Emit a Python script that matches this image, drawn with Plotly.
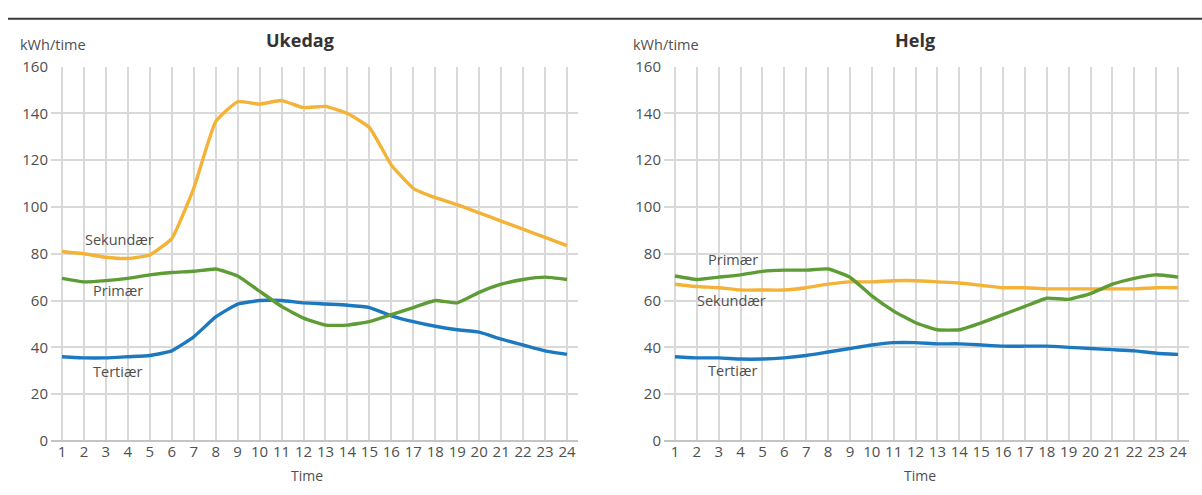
import plotly.graph_objects as go

hours = list(range(1, 25))
tick_labels = [str(h) for h in hours]

ukedag_sekundaer = [81, 80, 78.5, 78, 79.5, 86.5, 108, 136.5, 145, 144, 145.5, 142.5,
                    143, 140, 134, 118, 108, 104, 101, 97.5, 94, 90.5, 87, 83.5]
ukedag_primaer = [69.5, 68, 68.5, 69.5, 71, 72, 72.5, 73.5, 70.5, 64, 57.5, 52.5,
                  49.5, 49.5, 51, 54, 57, 60, 59, 63.5, 67, 69, 70, 69]
ukedag_tertiaer = [36, 35.5, 35.5, 36, 36.5, 38.5, 44.5, 53, 58.5, 60, 60, 59,
                   58.5, 58, 57, 53.5, 51, 49, 47.5, 46.5, 43.5, 41, 38.5, 37]

helg_primaer = [70.5, 69, 70, 71, 72.5, 73, 73, 73.5, 70, 62, 55.5, 50.5,
                47.5, 47.5, 50.5, 54, 57.5, 61, 60.5, 63, 67, 69.5, 71, 70]
helg_sekundaer = [67, 66, 65.5, 64.5, 64.5, 64.5, 65.5, 67, 68, 68, 68.5, 68.5,
                  68, 67.5, 66.5, 65.5, 65.5, 65, 65, 65, 65, 65, 65.5, 65.5]
helg_tertiaer = [36, 35.5, 35.5, 35, 35, 35.5, 36.5, 38, 39.5, 41, 42, 42,
                 41.5, 41.5, 41, 40.5, 40.5, 40.5, 40, 39.5, 39, 38.5, 37.5, 37]

y_ticks = [0, 20, 40, 60, 80, 100, 120, 140, 160]

ORANGE = "#F4B237"
GREEN = "#5E9C35"
BLUE = "#1C79BF"
GRID = "#D9D9D9"
TXT = "#4F4F4F"
FONT = "Open Sans"

W, H = 1202, 495

fig = go.Figure()

def add(x, y, color, xa, ya):
    fig.add_trace(go.Scatter(x=x, y=y, mode="lines", line=dict(color=color, width=3.4, shape="spline", smoothing=0.4),
                             xaxis=xa, yaxis=ya, showlegend=False, hoverinfo="skip"))

add(hours, ukedag_tertiaer, BLUE, "x", "y")
add(hours, ukedag_primaer, GREEN, "x", "y")
add(hours, ukedag_sekundaer, ORANGE, "x", "y")
add(hours, helg_tertiaer, BLUE, "x2", "y2")
add(hours, helg_sekundaer, ORANGE, "x2", "y2")
add(hours, helg_primaer, GREEN, "x2", "y2")

ybot = 1 - 448 / H
ytop = 1 - 58 / H

xax = dict(range=[0.5, 24.5], tickmode="array", tickvals=hours, ticktext=tick_labels,
           showgrid=True, gridcolor=GRID, gridwidth=2, zeroline=False, showline=False,
           ticks="", tickfont=dict(family=FONT, size=15, color=TXT),
           fixedrange=True)
yax = dict(range=[0, 160], tickmode="array", tickvals=y_ticks,
           showgrid=True, gridcolor=GRID, gridwidth=2, zeroline=True, zerolinecolor="#C4C4C4",
           zerolinewidth=2, showline=False, ticks="", ticklabelstandoff=2,
           tickfont=dict(family=FONT, size=15, color=TXT), domain=[ybot, ytop], fixedrange=True)

fig.update_layout(
    width=W, height=H, margin=dict(l=0, r=0, t=0, b=0),
    paper_bgcolor="white", plot_bgcolor="white",
    xaxis=dict(xax, domain=[51 / W, 578 / W], anchor="y"),
    yaxis=dict(yax, anchor="x"),
    xaxis2=dict(xax, domain=[664 / W, 1189 / W], anchor="y2"),
    yaxis2=dict(yax, anchor="x2"),
)

def px(xp, yp):
    return xp / W, 1 - yp / H

anns = []
def ann(text, xp, yp, size=12, bold=False, xanchor="center"):
    x, y = px(xp, yp)
    anns.append(dict(text=f"<b>{text}</b>" if bold else text, x=x, y=y, xref="paper", yref="paper",
                     showarrow=False, xanchor=xanchor, yanchor="middle",
                     font=dict(family=FONT, size=size, color="#333333" if bold else TXT)))

ann("Ukedag", 300, 30, size=18, bold=True)
ann("Helg", 915, 30, size=18, bold=True)
ann("kWh/time", 18, 35, size=14.5, xanchor="left")
ann("kWh/time", 631, 35, size=14.5, xanchor="left")
ann("Time", 307, 484, size=14)
ann("Time", 920, 484, size=14)

def dann(text, x, y, xa, ya):
    anns.append(dict(text=text, x=x, y=y, xref=xa, yref=ya, showarrow=False,
                     font=dict(family=FONT, size=14.5, color=TXT)))

dann("Sekundær", 3.6, 86, "x", "y")
dann("Primær", 3.55, 64.5, "x", "y")
dann("Tertiær", 3.55, 29.5, "x", "y")
dann("Primær", 3.65, 77.5, "x2", "y2")
dann("Sekundær", 3.6, 60, "x2", "y2")
dann("Tertiær", 3.65, 30, "x2", "y2")

fig.update_layout(annotations=anns)

fig.add_shape(type="line", xref="paper", yref="paper", x0=8 / W, x1=1.0, y0=1 - 8 / H, y1=1 - 8 / H,
              line=dict(color="#3A3A3A", width=2))

fig.write_html("out.html", config={"displayModeBar": False},
               post_script="document.body.style.margin='0px';document.body.style.overflow='hidden';")
